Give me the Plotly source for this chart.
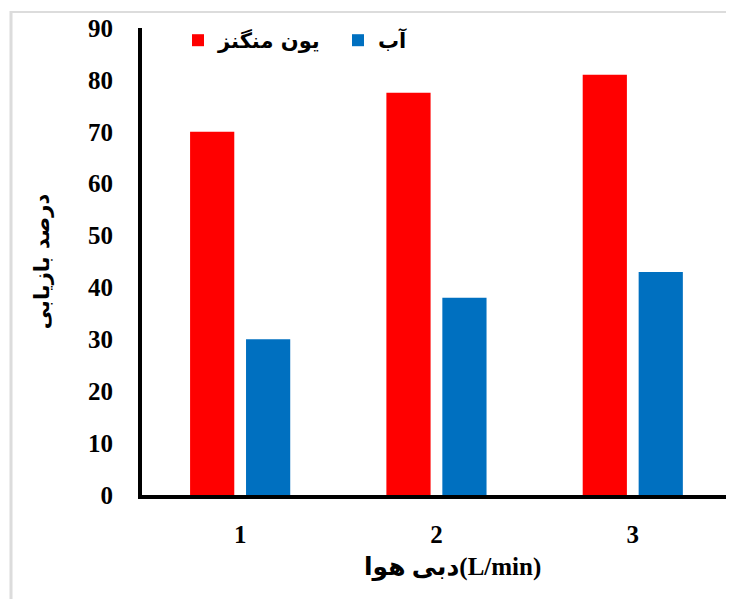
import plotly.graph_objects as go

categories = ["1", "2", "3"]
manganese = [70, 77.5, 81]
water = [30, 38, 43]
series_names = ["یون منگنز", "آب"]
y_ticks = [0, 10, 20, 30, 40, 50, 60, 70, 80, 90]

# page is offset by the default 8px body margin
OFF = 8
W, H = 734 - OFF, 599 - OFF
ml, mr, mt, mb = 142 - OFF, 7, 25 - OFF, 104
pw, ph = W - ml - mr, H - mt - mb

def px_x(p):
    return (p - OFF - ml) / pw

def px_y(p):
    return (H - mb - (p - OFF)) / ph

fig = go.Figure()
fig.add_trace(go.Bar(x=categories, y=manganese, name=series_names[0],
                     marker=dict(color="#FF0000", line=dict(width=0))))
fig.add_trace(go.Bar(x=categories, y=water, name=series_names[1],
                     marker=dict(color="#0070C0", line=dict(width=0))))

serif = "Liberation Serif"
arab = "DejaVu Sans"

fig.update_layout(
    width=W, height=H,
    margin=dict(l=ml, r=mr, t=mt, b=mb),
    paper_bgcolor="white", plot_bgcolor="white",
    barmode="group", bargap=0.43, bargroupgap=0.21,
    showlegend=True,
    legend=dict(orientation="h", x=px_x(178), y=px_y(17), xanchor="left", yanchor="top",
                font=dict(family=arab, size=21, color="black", weight="bold"),
                bgcolor="rgba(0,0,0,0)", itemwidth=30, entrywidth=115, traceorder="normal"),
    xaxis=dict(type="category", range=[-0.5, 2.48], showline=True, linecolor="black",
               linewidth=4, showgrid=False, ticks="", zeroline=False,
               tickfont=dict(family=serif, size=25, color="black", weight="bold"),
               ticklabelstandoff=14),
    yaxis=dict(range=[0, 90], tickvals=y_ticks, showline=True, linecolor="black",
               linewidth=4, showgrid=False, ticks="", zeroline=False,
               tickfont=dict(family=serif, size=25, color="black", weight="bold"),
               ticklabelstandoff=20,
               title=dict(text="درصد بازیابی", standoff=34,
                          font=dict(family=arab, size=21, color="black", weight="bold"))),
    annotations=[dict(text="دبی هوا(L/min)", x=px_x(452), y=px_y(568), xref="paper", yref="paper",
                      xanchor="center", yanchor="middle", showarrow=False,
                      font=dict(family="Liberation Serif, DejaVu Sans", size=25, color="black", weight="bold"))],
    shapes=[
        dict(type="line", xref="paper", yref="paper", x0=px_x(11), x1=px_x(11),
             y0=px_y(8), y1=px_y(H + 20), line=dict(color="#dcdcdc", width=3), layer="below"),
        dict(type="line", xref="paper", yref="paper", x0=px_x(10), x1=px_x(W + 20),
             y0=px_y(9), y1=px_y(9), line=dict(color="#dcdcdc", width=2), layer="below"),
    ],
)

fig.write_html("out.html")
